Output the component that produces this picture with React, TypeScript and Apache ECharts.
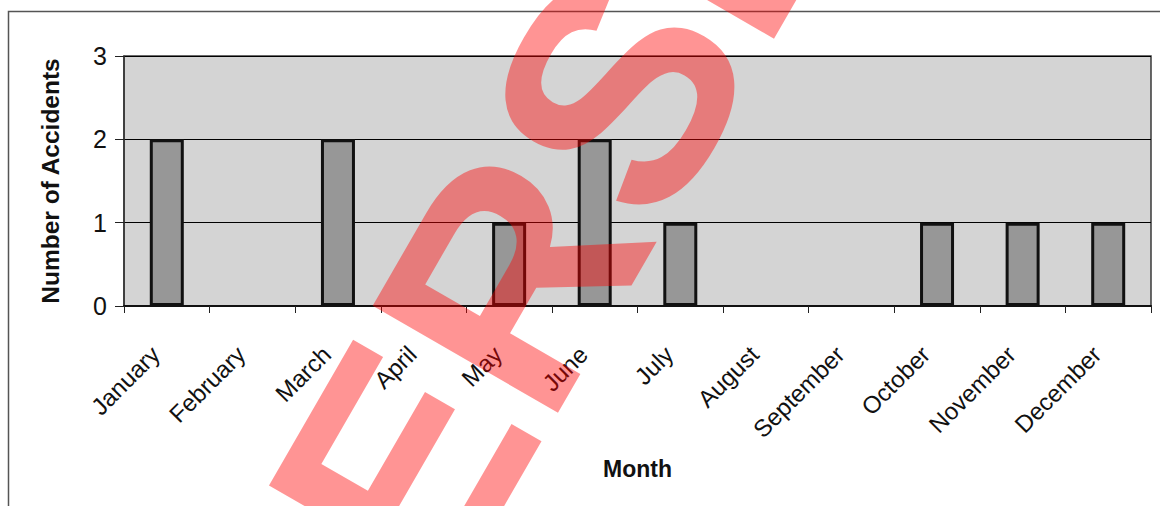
import React, { useEffect, useRef } from "react";
import * as echarts from "echarts";

const months = [
  "January", "February", "March", "April", "May", "June",
  "July", "August", "September", "October", "November", "December",
];
const accidents = [2, 0, 2, 0, 1, 2, 1, 0, 0, 1, 1, 1];
const yTicks = { min: 0, max: 3, interval: 1 };
const xTitle = "Month";
const yTitle = "Number of Accidents";
const watermark = "SUPERSEDED";

const FONT = "'Liberation Sans', Arial, sans-serif";

export default function App() {
  const ref = useRef<HTMLDivElement>(null);
  useEffect(() => {
    if (!ref.current) return;
    const chart = echarts.init(ref.current, null, { renderer: "svg" });
    const barData = accidents.map((v) =>
      v === 0 ? { value: v, itemStyle: { borderWidth: 0 } } : v
    );
    chart.setOption({
      animation: false,
      backgroundColor: "#ffffff",
      grid: {
        left: 124,
        top: 56,
        right: 9,
        bottom: 200,
        show: true,
        backgroundColor: "#d4d4d4",
        borderColor: "#3a3a3a",
        borderWidth: 1.5,
      },
      xAxis: {
        type: "category",
        data: months,
        boundaryGap: true,
        name: xTitle,
        nameLocation: "middle",
        nameGap: 151,
        nameTextStyle: { fontFamily: FONT, fontWeight: "bold", fontSize: 23, color: "#111" },
        axisLine: { show: true, lineStyle: { color: "#111", width: 2 } },
        axisTick: { show: true, length: 7, lineStyle: { color: "#222", width: 1 } },
        axisLabel: {
          rotate: 45,
          margin: 33,
          padding: [0, 16, 0, 0],
          fontFamily: FONT,
          fontSize: 24,
          color: "#111",
          interval: 0,
        },
        splitLine: { show: false },
      },
      yAxis: {
        type: "value",
        min: yTicks.min,
        max: yTicks.max,
        interval: yTicks.interval,
        name: yTitle,
        nameLocation: "middle",
        nameGap: 61,
        nameTextStyle: { fontFamily: FONT, fontWeight: "bold", fontSize: 24.5, color: "#111" },
        axisLine: { show: true, lineStyle: { color: "#333", width: 1.5 } },
        axisTick: { show: true, length: 9, lineStyle: { color: "#222", width: 1 } },
        axisLabel: {
          margin: 17,
          padding: [7, 0, 0, 0],
          fontFamily: FONT,
          fontSize: 25,
          color: "#111",
        },
        splitLine: { show: true, lineStyle: { color: "#000", width: 1 } },
      },
      series: [
        {
          type: "bar",
          data: barData,
          barWidth: 34,
          itemStyle: { color: "#979797", borderColor: "#111", borderWidth: 3 },
          z: 3,
        },
      ],
      graphic: [
        {
          type: "rect",
          shape: { x: 8.5, y: 11.5, width: 1300, height: 700 },
          style: { fill: "none", stroke: "#555", lineWidth: 1.5 },
          z: 0,
          silent: true,
        },
        {
          type: "text",
          x: 30.6,
          y: 1110.2,
          rotation: Math.PI / 3,
          z: 100,
          silent: true,
          style: {
            text: watermark,
            font: `bold 311px ${FONT}`,
            fill: "rgba(255, 0, 0, 0.42)",
            align: "left",
            verticalAlign: "middle",
            textAlign: "left",
            textVerticalAlign: "middle",
          },
        },
      ],
    });
    return () => chart.dispose();
  }, []);
  return (
    <div
      ref={ref}
      style={{ position: "absolute", left: 0, top: 0, width: 1160, height: 506 }}
    />
  );
}
